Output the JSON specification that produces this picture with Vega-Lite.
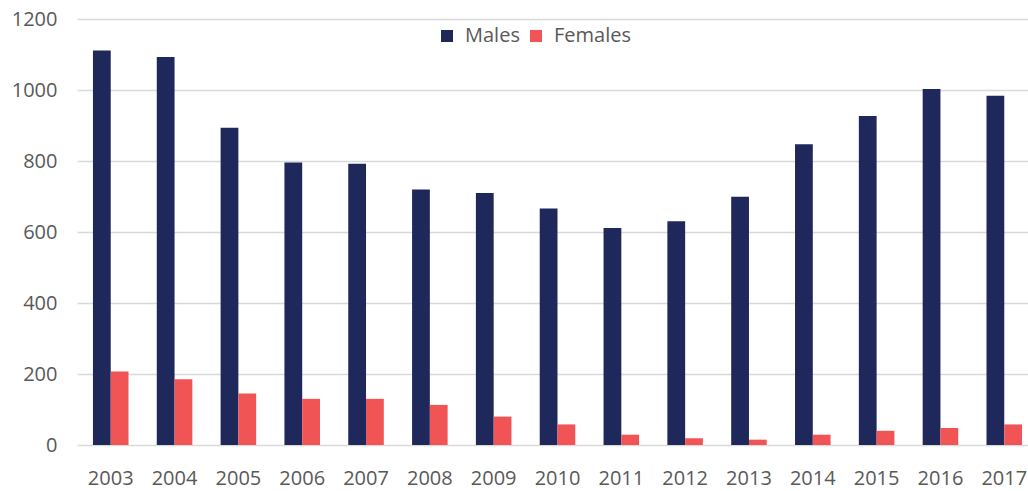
{
  "$schema": "https://vega.github.io/schema/vega-lite/v6.json",
  "width": 951,
  "height": 426,
  "autosize": {"type": "none"},
  "padding": {"left": 77, "top": 19, "right": 0, "bottom": 46},
  "background": "white",
  "data": {
    "values": [
      {"year": "2003", "sex": "Males", "value": 1111},
      {"year": "2004", "sex": "Males", "value": 1093},
      {"year": "2005", "sex": "Males", "value": 894},
      {"year": "2006", "sex": "Males", "value": 796},
      {"year": "2007", "sex": "Males", "value": 792},
      {"year": "2008", "sex": "Males", "value": 720},
      {"year": "2009", "sex": "Males", "value": 710},
      {"year": "2010", "sex": "Males", "value": 666},
      {"year": "2011", "sex": "Males", "value": 611},
      {"year": "2012", "sex": "Males", "value": 630},
      {"year": "2013", "sex": "Males", "value": 699},
      {"year": "2014", "sex": "Males", "value": 847},
      {"year": "2015", "sex": "Males", "value": 927},
      {"year": "2016", "sex": "Males", "value": 1003},
      {"year": "2017", "sex": "Males", "value": 984},
      {"year": "2003", "sex": "Females", "value": 207},
      {"year": "2004", "sex": "Females", "value": 185},
      {"year": "2005", "sex": "Females", "value": 145},
      {"year": "2006", "sex": "Females", "value": 130},
      {"year": "2007", "sex": "Females", "value": 130},
      {"year": "2008", "sex": "Females", "value": 113},
      {"year": "2009", "sex": "Females", "value": 80},
      {"year": "2010", "sex": "Females", "value": 58},
      {"year": "2011", "sex": "Females", "value": 29},
      {"year": "2012", "sex": "Females", "value": 19},
      {"year": "2013", "sex": "Females", "value": 15},
      {"year": "2014", "sex": "Females", "value": 29},
      {"year": "2015", "sex": "Females", "value": 40},
      {"year": "2016", "sex": "Females", "value": 48},
      {"year": "2017", "sex": "Females", "value": 58}
    ]
  },
  "mark": {"type": "bar"},
  "encoding": {
    "x": {
      "field": "year",
      "type": "nominal",
      "scale": {"paddingInner": 0.443, "paddingOuter": 0.25, "range": [0, 961]},
      "axis": {
        "title": null,
        "labelAngle": 0,
        "ticks": false,
        "domain": false,
        "labelFontSize": 20,
        "labelColor": "#595959",
        "labelPadding": 23
      }
    },
    "xOffset": {"field": "sex", "type": "nominal", "sort": ["Males", "Females"]},
    "y": {
      "field": "value",
      "type": "quantitative",
      "scale": {"domain": [0, 1200], "nice": false},
      "axis": {
        "title": null,
        "values": [0, 200, 400, 600, 800, 1000, 1200],
        "format": "d",
        "ticks": false,
        "domain": false,
        "grid": true,
        "gridColor": "#d9d9d9",
        "gridWidth": 1.3,
        "labelFontSize": 20,
        "labelColor": "#595959",
        "labelPadding": 20
      }
    },
    "color": {
      "field": "sex",
      "type": "nominal",
      "sort": ["Males", "Females"],
      "scale": {"domain": ["Males", "Females"], "range": ["#1f285a", "#f05454"]},
      "legend": {
        "title": null,
        "orient": "none",
        "direction": "horizontal",
        "legendX": 360,
        "legendY": 7,
        "symbolType": "square",
        "symbolSize": 144,
        "symbolStrokeWidth": 0,
        "labelFontSize": 20,
        "labelColor": "#595959",
        "labelOffset": 8,
        "columnPadding": 6
      }
    }
  },
  "config": {
    "view": {"stroke": null},
    "font": "Open Sans"
  }
}
